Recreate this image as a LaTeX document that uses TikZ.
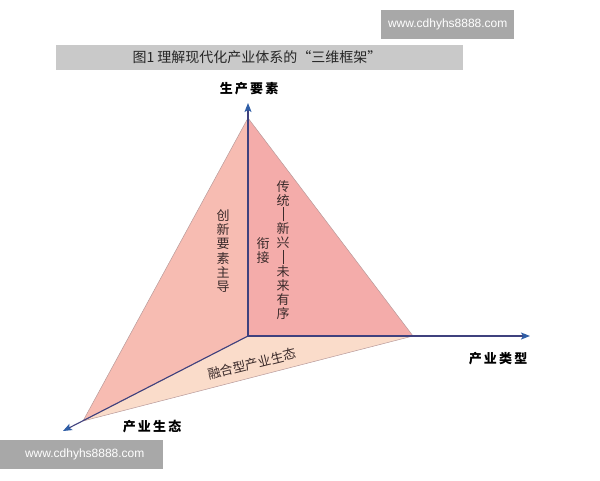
\documentclass[tikz,border=0pt]{standalone}
\usepackage{fontspec}
\setmainfont{Noto Sans CJK SC}
\newfontfamily\wmfont{Liberation Sans}
\usetikzlibrary{arrows.meta}
\definecolor{leftface}{HTML}{F7BCB2}
\definecolor{rightface}{HTML}{F4ACAA}
\definecolor{bottomface}{HTML}{FADCCA}
\definecolor{axisline}{HTML}{3F417E}
\definecolor{arrowblue}{HTML}{2F5EA6}
\definecolor{edgeline}{HTML}{B89A9A}
\definecolor{titlebar}{HTML}{C9C9C9}
\definecolor{wmgray}{HTML}{A8A8A8}
\definecolor{txt}{HTML}{3A2A2A}
\tikzset{
  face/.style={draw=edgeline, line width=0.5pt},
  axis/.style={draw=axisline, line width=1.1pt, -{Stealth[length=9pt,width=7pt,inset=2pt,color=arrowblue]}},
  axislabel/.style={font=\bfseries\fontsize{13}{14}\selectfont, text=black},
  vtext/.style={font=\fontsize{13}{14.2}\selectfont, align=center, text=txt, inner sep=0pt},
  wm/.style={fill=wmgray, text=white, font=\wmfont\fontsize{12}{14}\selectfont, inner sep=0pt, minimum height=29pt}
}
\newcommand{\vbar}{\rule[-2pt]{0.8pt}{14pt}}
\begin{document}
\begin{tikzpicture}[x=1pt,y=-1pt]
\useasboundingbox (0,0) rectangle (600,480);
% title bar
\node[fill=titlebar, minimum width=407pt, minimum height=25pt, inner sep=0pt, anchor=north west] (titlebar) at (56,45) {};
\node[font=\fontsize{14}{16}\selectfont, text=black!85] (title) at (257,57.5) {图1 理解现代化产业体系的“三维框架”};
% watermarks
\node[wm, minimum width=133pt, anchor=north west] (wm1) at (381,10) {www.cdhyhs8888.com};
\node[wm, minimum width=163pt, anchor=north west] (wm2) at (0,440) {\hspace*{6pt}www.cdhyhs8888.com\hfill};
% vertices
\coordinate (O) at (248,336);
\coordinate (A) at (248,118);
\coordinate (R) at (413,336);
\coordinate (L) at (83,421);
\coordinate (Atip) at (248,103);
\coordinate (Rtip) at (530,336);
\coordinate (Ltip) at (63,431);
% faces
\fill[bottomface] (O) -- (L) -- (R) -- cycle;
\draw[edgeline, line width=0.5pt] (L) -- (R);
\filldraw[face, fill=leftface] (A) -- (L) -- (O) -- cycle;
\filldraw[face, fill=rightface] (A) -- (O) -- (R) -- cycle;
% axes
\draw[axis] (O) -- (Atip);
\draw[axis] (O) -- (Rtip);
\draw[axis] (O) -- (Ltip);
% axis labels
\node[axislabel] (lab1) at (249,89) {生\,产\,要\,素};
\node[axislabel] (lab2) at (498,359) {产\,业\,类\,型};
\node[axislabel] (lab3) at (152,427) {产\,业\,生\,态};
% face texts
\node[vtext] (t1) at (223,251) {创\\新\\要\\素\\主\\导};
\node[vtext] (t2) at (263,251) {衔\\接};
\node[vtext] (t3) at (283,250) {传\\统\\\vbar\\新\\兴\\\vbar\\未\\来\\有\\序};
\node[vtext, rotate=14] (t4) at (252,364) {融合型产业生态};
\end{tikzpicture}
\end{document}
